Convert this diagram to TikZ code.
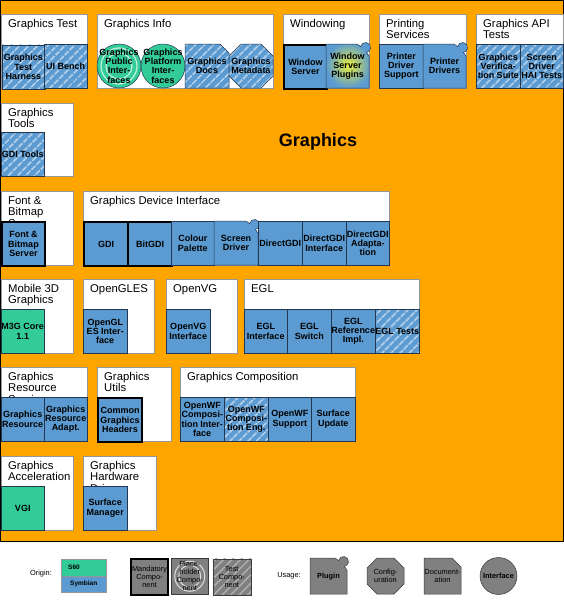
\documentclass[tikz,border=0pt]{standalone}
\usepackage{fontspec}
\setmainfont{Liberation Sans}
\usetikzlibrary{patterns.meta,shapes.geometric}
\definecolor{bgorange}{RGB}{255,165,0}
\definecolor{compblue}{RGB}{91,155,209}
\definecolor{compgreen}{RGB}{51,204,153}
\definecolor{compline}{RGB}{35,55,80}
\definecolor{hatchc}{RGB}{180,208,234}
\definecolor{groupline}{RGB}{150,150,150}
\definecolor{leggray}{RGB}{128,128,128}
\definecolor{legline}{RGB}{60,60,60}
\definecolor{leghatch}{RGB}{175,175,175}
\definecolor{glowyellow}{RGB}{232,238,60}
\newcommand\compfont{\bfseries\fontsize{9}{9.3}\selectfont}
\newcommand\titlefont{\fontsize{11.3}{11.6}\selectfont}
\newcommand\legfont{\fontsize{7.4}{8}\selectfont}
\newcommand\plugshape[4]{(#1,#4) -- (#1,#2) -- ({#3-12},#2) -- ({#3-8.4},{#2+2.6}) arc[start angle=190,end angle=440,radius=5] -- (#3,{#2+12}) -- (#3,#4) -- cycle}
\newcommand\docshape[5]{(#1,#2) -- ({#3-#5},#2) -- (#3,{#2+#5}) -- (#3,#4) -- (#1,#4) -- cycle}
\newcommand\octshape[5]{({#1+#5},#2) -- ({#3-#5},#2) -- (#3,{#2+#5}) -- (#3,{#4-#5}) -- ({#3-#5},#4) -- ({#1+#5},#4) -- (#1,{#4-#5}) -- (#1,{#2+#5}) -- cycle}
\newcommand\grp[6]{%
  \node[group, minimum width={#3-#2}, minimum height={#5-#4}, anchor=north west] (#1) at (#2,#4) {};
  \node[gtitle] (#1-t) at ({#2+7},{#4+5}) {#6};}
\newcommand\rcomp[7]{%
  \node[comp,#6, minimum width={#3-#2}, minimum height={#5-#4}, anchor=north west] (#1) at (#2,#4) {#7};}
\begin{document}
\begin{tikzpicture}[x=1pt,y=-1pt,
  group/.style={draw=groupline, fill=white, line width=0.6pt, inner sep=0},
  gtitle/.style={anchor=north west, inner sep=0, align=left, font=\titlefont},
  comp/.style={draw=compline, fill=compblue, line width=0.5pt, inner sep=0, align=center, font=\compfont, text=black},
  comptext/.style={inner sep=0, align=center, font=\compfont, text=black},
  testc/.style={pattern={Lines[angle=45,distance=6.5pt,line width=1.6pt]}, pattern color=hatchc, preaction={fill=compblue}},
  mand/.style={draw=black, line width=2pt},
  sixty/.style={fill=compgreen},
  glow/.style={inner color=glowyellow, outer color=compblue},
  ring/.style={draw=white!70!compgreen, line width=1.2pt},
  legc/.style={draw=legline, fill=leggray, line width=0.5pt, inner sep=0, align=center, font=\legfont, text=black},
  legtext/.style={inner sep=0, align=center, font=\legfont, text=black},
  legtest/.style={pattern={Lines[angle=45,distance=6pt,line width=1.5pt]}, pattern color=leghatch, preaction={fill=leggray}},
  legring/.style={draw=white!75!leggray, line width=1pt}]
\useasboundingbox (0,0) rectangle (564,605);
\fill[white] (0,0) rectangle (564,605);
\draw[fill=bgorange, draw=black, line width=1.2pt] (0.5,0.5) rectangle (563.5,541.5);

% ---------- groups ----------
\grp{gtest}{1}{87}{14}{88}{Graphics Test}
\grp{ginfo}{97}{273}{14}{88}{Graphics Info}
\grp{gwin}{283}{369}{14}{88}{Windowing}
\grp{gprint}{379}{466}{14}{88}{Printing\\Services}
\grp{gapi}{476}{563}{14}{88}{Graphics API\\Tests}
\grp{gtools}{1}{73}{103}{176}{Graphics\\Tools}
\grp{gfbs}{1}{73}{191}{265}{Font \&\\Bitmap\\Server}
\grp{ggdi}{83}{389}{191}{265}{Graphics Device Interface}
\grp{gm3d}{1}{73}{279}{353}{Mobile 3D\\Graphics}
\grp{ggles}{83}{154}{279}{353}{OpenGLES}
\grp{govg}{166}{237}{279}{353}{OpenVG}
\grp{gegl}{244}{419}{279}{353}{EGL}
\grp{gres}{1}{87}{367}{441}{Graphics\\Resource\\Services}
\grp{gutil}{97}{171}{367}{441}{Graphics\\Utils}
\grp{gcomp}{180}{355}{367}{441}{Graphics Composition}
\grp{gaccel}{1}{73}{456}{530}{Graphics\\Acceleration}
\grp{ghw}{83}{156}{456}{530}{Graphics\\Hardware\\Drivers}

\node[font=\bfseries\fontsize{18}{18}\selectfont, inner sep=0] (title) at (318,142) {Graphics};

% ---------- row 1 ----------
\rcomp{gth}{1}{44}{44}{88}{testc}{Graphics\\Test\\Harness}
\rcomp{uib}{44}{87}{44}{88}{testc}{UI Bench}
\node[comp, sixty, circle, minimum size=44] (gpi) at (119,66) {};
\draw[ring] (gpi.center) circle[radius=18] (gpi.center) circle[radius=13];
\node[comptext] (gpi-t) at (gpi.center) {Graphics\\Public\\Inter-\\faces};
\node[comp, sixty, circle, minimum size=44] (gpl) at (163,66) {};
\node[comptext] (gpl-t) at (gpl.center) {Graphics\\Platform\\Inter-\\faces};
\path[comp, testc] \docshape{185}{44}{229}{88}{9};
\node[comptext] (gdoc) at (207,66) {Graphics\\Docs};
\path[comp, testc] \octshape{229}{44}{273}{88}{12};
\node[comptext] (gmeta) at (251,66) {Graphics\\Metadata};
\rcomp{wsrv}{283}{326}{44}{88}{mand}{Window\\Server}
\path[comp, glow] \plugshape{326}{44}{369}{88};
\node[comptext] (wsp) at (347.5,66) {Window\\Server\\Plugins};
\rcomp{pds}{379}{423}{44}{88}{}{Printer\\Driver\\Support}
\path[comp] \plugshape{423}{44}{466}{88};
\node[comptext] (pdr) at (444.5,66) {Printer\\Drivers};
\rcomp{gvs}{476}{520}{44}{88}{testc}{Graphics\\Verifica-\\tion Suite}
\rcomp{sdh}{520}{563}{44}{88}{testc}{Screen\\Driver\\HAI Tests}

% ---------- row 2 ----------
\rcomp{gdit}{1}{44}{132}{176}{testc}{GDI Tools}

% ---------- row 3 ----------
\rcomp{fbs}{1}{44}{221}{265}{mand}{Font \&\\Bitmap\\Server}
\rcomp{gdi}{83}{127}{221}{265}{mand}{GDI}
\rcomp{bitgdi}{127}{171}{221}{265}{mand}{BitGDI}
\rcomp{cpal}{171}{214}{221}{265}{}{Colour\\Palette}
\path[comp] \plugshape{214}{221}{258}{265};
\node[comptext] (sdrv) at (236,243) {Screen\\Driver};
\rcomp{dgdi}{258}{302}{221}{265}{}{DirectGDI}
\rcomp{dgdii}{302}{346}{221}{265}{}{DirectGDI\\Interface}
\rcomp{dgdia}{346}{389}{221}{265}{}{DirectGDI\\Adapta-\\tion}

% ---------- row 4 ----------
\rcomp{m3g}{1}{44}{309}{353}{sixty}{M3G Core\\1.1}
\rcomp{ogl}{83}{127}{309}{353}{}{OpenGL\\ES Inter-\\face}
\rcomp{ovg}{166}{210}{309}{353}{}{OpenVG\\Interface}
\rcomp{egli}{244}{287}{309}{353}{}{EGL\\Interface}
\rcomp{egls}{287}{331}{309}{353}{}{EGL\\Switch}
\rcomp{eglr}{331}{375}{309}{353}{}{EGL\\Reference\\Impl.}
\rcomp{eglt}{375}{419}{309}{353}{testc}{EGL Tests}

% ---------- row 5 ----------
\rcomp{grs}{1}{44}{397}{441}{}{Graphics\\Resource}
\rcomp{grsa}{44}{87}{397}{441}{}{Graphics\\Resource\\Adapt.}
\rcomp{cgh}{97}{141}{397}{441}{mand}{Common\\Graphics\\Headers}
\rcomp{owfci}{180}{224}{397}{441}{}{OpenWF\\Composi-\\tion Inter-\\face}
\rcomp{owfce}{224}{268}{397}{441}{testc}{OpenWF\\Composi-\\tion Eng.}
\rcomp{owfs}{268}{311}{397}{441}{}{OpenWF\\Support}
\rcomp{supd}{311}{355}{397}{441}{}{Surface\\Update}

% ---------- row 6 ----------
\rcomp{vgi}{1}{44}{486}{530}{sixty}{VGI}
\rcomp{sman}{83}{127}{486}{530}{}{Surface\\Manager}

% ---------- legend ----------
\node[legtext] (l-origin) at (41,574) {Origin:};
\node[draw=groupline, fill=compgreen, line width=0.5pt, minimum width=45, minimum height=17, anchor=north west, inner sep=0] (l-s60) at (61,559) {};
\node[font=\bfseries\fontsize{6.5}{7}\selectfont, inner sep=0, anchor=west] (l-s60-t) at (68,567.5) {S60};
\node[draw=groupline, fill=compblue, line width=0.5pt, minimum width=45, minimum height=16, anchor=north west, inner sep=0, font=\bfseries\fontsize{6.5}{7}\selectfont] (l-sym) at (61,576) {Symbian};
\node[legc, draw=black, line width=2pt, minimum width=37, minimum height=36, anchor=north west] (l-mand) at (130,558) {Mandatory\\Compo-\\nent};
\node[legc, minimum width=37, minimum height=36, anchor=north west] (l-ph) at (171,558) {};
\draw[legring] (l-ph.center) circle[radius=15] (l-ph.center) circle[radius=11];
\node[legtext] (l-ph-t) at (l-ph.center) {Place-\\holder\\Compo-\\nent};
\node[legc, legtest, minimum width=38, minimum height=36, anchor=north west] (l-test) at (212,558) {Test\\Compo-\\nent};
\node[legtext] (l-usage) at (289,576) {Usage:};
\path[legc] \plugshape{310}{558}{347}{594};
\node[legtext, font=\bfseries\legfont] (l-plug) at (328.5,577) {Plugin};
\path[legc] \octshape{367}{558}{404}{594}{10};
\node[legtext] (l-conf) at (385.5,576) {Config-\\uration};
\path[legc] \docshape{424}{558}{461}{594}{9};
\node[legtext] (l-doc) at (442.5,576) {Document-\\ation};
\node[legc, circle, minimum size=37] (l-int) at (498.5,576) {};
\node[legtext, font=\bfseries\legfont] (l-int-t) at (l-int.center) {Interface};
\end{tikzpicture}
\end{document}
